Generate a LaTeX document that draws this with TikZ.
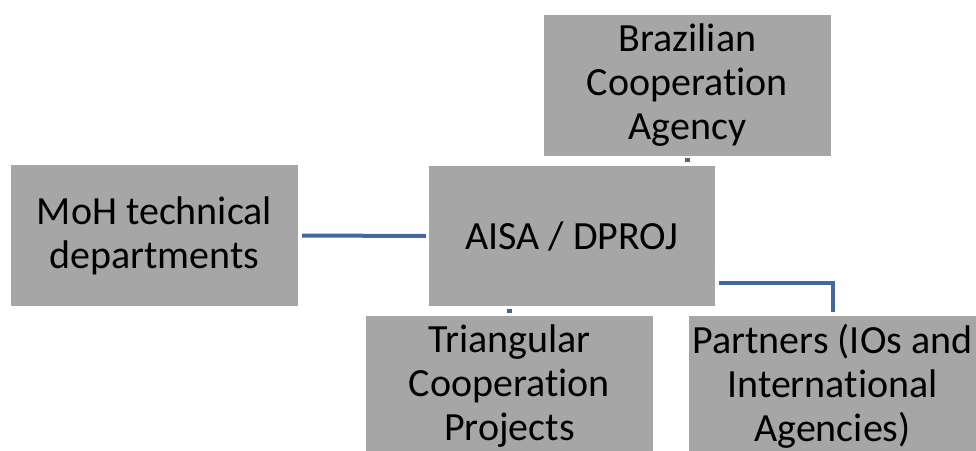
\documentclass[tikz,border=0pt]{standalone}
\usepackage{fontspec}
\setmainfont{Carlito}[Ligatures=NoCommon]
\definecolor{boxgray}{HTML}{A6A6A6}
\definecolor{linkblue}{HTML}{41699B}
\begin{document}
\begin{tikzpicture}[x=1pt,y=-1pt,
  orgbox/.style={rectangle, fill=boxgray, inner sep=0pt, minimum width=287pt, minimum height=141pt,
    align=center, font=\fontsize{40}{44}\selectfont, text=black},
  link/.style={draw=linkblue, line width=4pt}]
\clip (0,0) rectangle (976,450);
\fill[white] (0,0) rectangle (976,450);
\node[orgbox] (brazil) at (687.5,85) {Brazilian\\Cooperation\\Agency};
\node[orgbox] (moh) at (154.5,235.5) {MoH technical\\departments};
\node[orgbox, minimum width=286pt, minimum height=140pt] (aisa) at (572,236) {AISA / DPROJ};
\node[orgbox, minimum height=140pt] (tri) at (509.5,386) {Triangular\\Cooperation\\Projects};
\node[orgbox, minimum height=140pt] (part) at (832.5,386) {Partners (IOs and\\International\\Agencies)};
\draw[link] ([xshift=4pt]moh.east) -- ([xshift=-3pt]aisa.west);
\draw[link] ([xshift=4pt,yshift=23pt]aisa.south east) -| ([yshift=4pt]part.north);
\draw[link] ([xshift=-3pt,yshift=-4pt]brazil.south) -- ([xshift=2pt,yshift=-4pt]brazil.south);
\draw[link] ([xshift=-2.5pt,yshift=5pt]tri.north) -- ([xshift=2.5pt,yshift=5pt]tri.north);
\end{tikzpicture}
\end{document}
